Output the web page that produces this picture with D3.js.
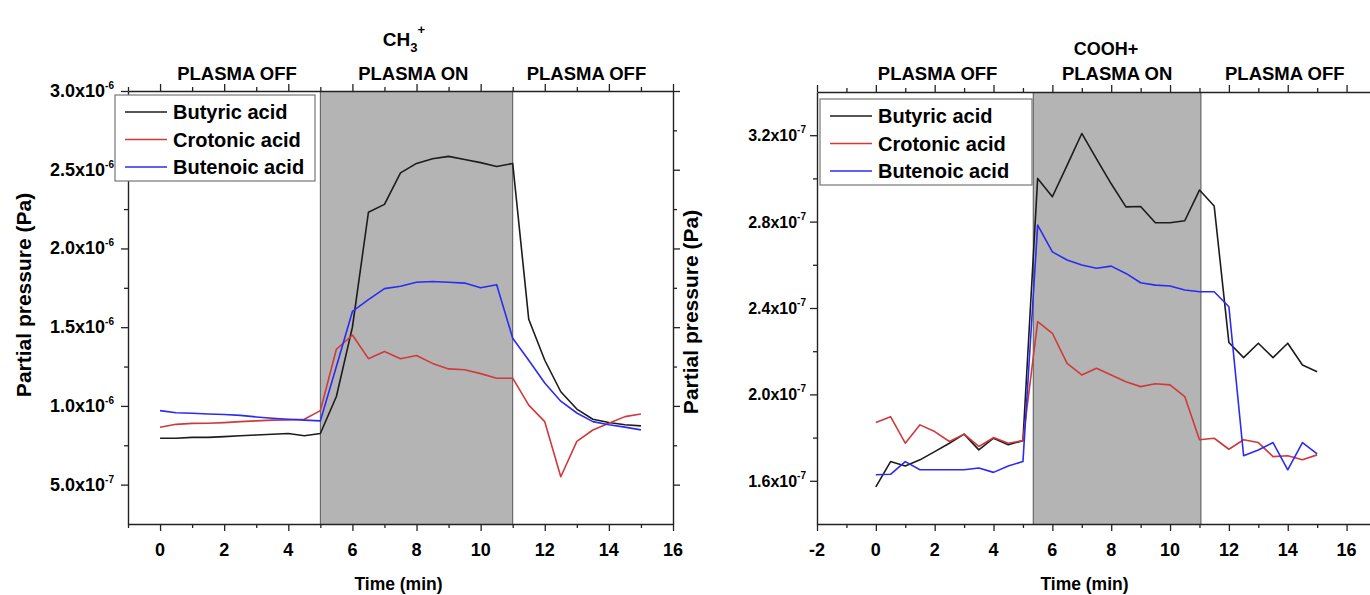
<!DOCTYPE html>
<html>
<head>
<meta charset="utf-8">
<script src="https://cdn.jsdelivr.net/npm/d3@7"></script>
<style>
  body { margin: 0; background: #fff; }
  svg { font-family: "Liberation Sans", Arial, sans-serif; font-weight: bold; }
</style>
</head>
<body>
<svg id="chart"></svg>
<script>
// sampling times (min), one reading every 30 s
const times = [0, 0.5, 1, 1.5, 2, 2.5, 3, 3.5, 4, 4.5, 5, 5.5, 6, 6.5, 7, 7.5,
               8, 8.5, 9, 9.5, 10, 10.5, 11, 11.5, 12, 12.5, 13, 13.5, 14, 14.5, 15]

// CH3+ signal, partial pressure (Pa)
const ch3Butyric = [0.795e-6, 0.795e-6, 0.80e-6, 0.80e-6, 0.805e-6, 0.81e-6, 0.815e-6, 0.82e-6,
                    0.825e-6, 0.81e-6, 0.825e-6, 1.06e-6, 1.50e-6, 2.23e-6, 2.28e-6, 2.48e-6,
                    2.54e-6, 2.57e-6, 2.585e-6, 2.565e-6, 2.545e-6, 2.52e-6, 2.54e-6, 1.55e-6,
                    1.29e-6, 1.09e-6, 0.98e-6, 0.915e-6, 0.895e-6, 0.88e-6, 0.873e-6]
const ch3Crotonic = [0.864e-6, 0.883e-6, 0.889e-6, 0.89e-6, 0.894e-6, 0.90e-6, 0.905e-6, 0.91e-6,
                     0.911e-6, 0.915e-6, 0.97e-6, 1.36e-6, 1.45e-6, 1.30e-6, 1.345e-6, 1.30e-6,
                     1.32e-6, 1.27e-6, 1.235e-6, 1.23e-6, 1.205e-6, 1.176e-6, 1.176e-6, 1.005e-6,
                     0.90e-6, 0.55e-6, 0.775e-6, 0.847e-6, 0.89e-6, 0.932e-6, 0.949e-6]
const ch3Butenoic = [0.97e-6, 0.957e-6, 0.953e-6, 0.949e-6, 0.945e-6, 0.94e-6, 0.93e-6, 0.922e-6,
                     0.915e-6, 0.91e-6, 0.905e-6, 1.25e-6, 1.60e-6, 1.675e-6, 1.745e-6, 1.76e-6,
                     1.785e-6, 1.79e-6, 1.785e-6, 1.78e-6, 1.75e-6, 1.77e-6, 1.43e-6, 1.29e-6,
                     1.145e-6, 1.03e-6, 0.955e-6, 0.90e-6, 0.88e-6, 0.865e-6, 0.848e-6]

// COOH+ signal, partial pressure (Pa)
const coohButyric = [1.572e-7, 1.689e-7, 1.669e-7, 1.697e-7, 1.735e-7, 1.774e-7, 1.816e-7, 1.743e-7,
                     1.797e-7, 1.767e-7, 1.786e-7, 3.00e-7, 2.915e-7, 3.06e-7, 3.208e-7, 3.09e-7,
                     2.975e-7, 2.868e-7, 2.87e-7, 2.795e-7, 2.795e-7, 2.804e-7, 2.946e-7, 2.872e-7,
                     2.24e-7, 2.17e-7, 2.237e-7, 2.17e-7, 2.237e-7, 2.136e-7, 2.105e-7]
const coohCrotonic = [1.87e-7, 1.897e-7, 1.774e-7, 1.859e-7, 1.828e-7, 1.782e-7, 1.816e-7, 1.759e-7,
                      1.80e-7, 1.774e-7, 1.786e-7, 2.337e-7, 2.283e-7, 2.144e-7, 2.09e-7, 2.121e-7,
                      2.09e-7, 2.059e-7, 2.036e-7, 2.049e-7, 2.044e-7, 1.99e-7, 1.79e-7, 1.797e-7,
                      1.746e-7, 1.79e-7, 1.777e-7, 1.712e-7, 1.716e-7, 1.697e-7, 1.72e-7]
const coohButenoic = [1.628e-7, 1.63e-7, 1.689e-7, 1.651e-7, 1.651e-7, 1.651e-7, 1.651e-7, 1.659e-7,
                      1.639e-7, 1.669e-7, 1.689e-7, 2.784e-7, 2.66e-7, 2.622e-7, 2.599e-7, 2.584e-7,
                      2.594e-7, 2.56e-7, 2.517e-7, 2.506e-7, 2.502e-7, 2.483e-7, 2.475e-7, 2.475e-7,
                      2.406e-7, 1.716e-7, 1.743e-7, 1.777e-7, 1.651e-7, 1.777e-7, 1.725e-7]

const seriesNames = ['Butyric acid', 'Crotonic acid', 'Butenoic acid']
const seriesColors = ['#1c1c1c', '#cf3a3a', '#2b2bf2']
const phaseLabels = ['PLASMA OFF', 'PLASMA ON', 'PLASMA OFF']

// plasma on window (min)
const ch3PlasmaOn = [5, 11]
const coohPlasmaOn = [5.35, 11.05]

// tick values
const ch3XTicks = [0, 2, 4, 6, 8, 10, 12, 14, 16]
const coohXTicks = [-2, 0, 2, 4, 6, 8, 10, 12, 14, 16]
const ch3YTicks = [5e-7, 1.0e-6, 1.5e-6, 2.0e-6, 2.5e-6, 3.0e-6]
const coohYTicks = [1.6e-7, 2.0e-7, 2.4e-7, 2.8e-7, 3.2e-7]

const svg = d3.select('#chart')
              .attr('width', 1370)
              .attr('height', 595)

//splits a tick value into "m.mx10" and its exponent
const sciParts = (v) => {
    let exp = Math.floor(Math.log10(v) + 1e-9)
    let mant = (v / Math.pow(10, exp)).toFixed(1)
    return [mant + 'x10', String(exp)]
}

//draws one panel
const drawPanel = (p) => {

    const x = d3.scaleLinear().domain(p.xDomain).range([p.left, p.right])
    const y = d3.scaleLinear().domain(p.yDomain).range([p.bottom, p.top])

    const g = svg.append('g')

    //plasma on band
    g.append('rect')
     .attr('x', x(p.plasma[0]))
     .attr('y', p.top)
     .attr('width', x(p.plasma[1]) - x(p.plasma[0]))
     .attr('height', p.bottom - p.top)
     .attr('fill', '#b4b4b4')
    p.plasma.forEach(t => {
        g.append('line')
         .attr('x1', x(t)).attr('x2', x(t))
         .attr('y1', p.top).attr('y2', p.bottom)
         .attr('stroke', '#555').attr('stroke-width', 1)
    })

    //axes: major + minor ticks
    const xMinor = d3.range(p.xDomain[0], p.xDomain[1] + 0.01, 1).filter(v => !p.xTicks.includes(v))
    const yMinor = p.yTicks.map(v => v - p.yStep / 2).concat([p.yTicks[p.yTicks.length - 1] + p.yStep / 2])
                           .filter(v => v > p.yDomain[0] && v < p.yDomain[1])

    const styleAxis = (sel) => {
        sel.select('.domain').attr('stroke', '#222').attr('stroke-width', 1.4)
        sel.selectAll('.tick line').attr('stroke', '#222').attr('stroke-width', 1.3)
        sel.selectAll('.tick text').remove()
    }

    const axes = [
        [d3.axisBottom(x), `translate(0,${p.bottom})`, p.xTicks, xMinor, 1],
        [d3.axisBottom(x), `translate(0,${p.top})`, p.xTicks, xMinor, -1],
        [d3.axisLeft(y), `translate(${p.left},0)`, p.yTicks, yMinor, 1],
        [d3.axisLeft(y), `translate(${p.right},0)`, p.yTicks, yMinor, -1]
    ]
    axes.forEach(([ax, tr, major, minor, dir]) => {
        g.append('g').attr('transform', tr)
         .call(ax.tickValues(major).tickSize(7 * dir).tickSizeOuter(0))
         .call(styleAxis)
        g.append('g').attr('transform', tr)
         .call(ax.tickValues(minor).tickSize(4 * dir).tickSizeOuter(0))
         .call(styleAxis)
         .select('.domain').remove()
    })

    //x tick labels
    g.selectAll('.xlab')
     .data(p.xTicks)
     .join('text')
     .attr('x', d => x(d))
     .attr('y', p.bottom + 32)
     .attr('text-anchor', 'middle')
     .attr('font-size', 18)
     .text(d => d)

    //y tick labels with exponent
    const yl = g.selectAll('.ylab')
                .data(p.yTicks)
                .join('text')
                .attr('x', p.left - p.yLabGap)
                .attr('y', d => y(d) + 6)
                .attr('text-anchor', 'end')
                .attr('font-size', p.yLabSize)
    yl.append('tspan').text(d => sciParts(d)[0])
    yl.append('tspan').attr('font-size', 10).attr('dy', -8).text(d => sciParts(d)[1])

    //axis titles
    g.append('text')
     .attr('x', (p.left + p.right) / 2 + p.xTitleShift)
     .attr('y', 590)
     .attr('text-anchor', 'middle')
     .attr('font-size', 17.5)
     .text('Time (min)')

    g.append('text')
     .attr('transform', `translate(${p.yTitleX},${p.yTitleY}) rotate(-90)`)
     .attr('text-anchor', 'middle')
     .attr('font-size', 21)
     .text('Partial pressure (Pa)')

    //phase labels
    g.selectAll('.phase')
     .data(phaseLabels)
     .join('text')
     .attr('x', (d, i) => x(p.phaseAt[i]))
     .attr('y', 80)
     .attr('text-anchor', 'middle')
     .attr('font-size', 18.5)
     .text(d => d)

    //series
    const line = d3.line()
                   .x((d, i) => x(times[i]))
                   .y(d => y(d))
    p.series.forEach((s, k) => {
        g.append('path')
         .datum(s)
         .attr('d', line)
         .attr('fill', 'none')
         .attr('stroke', seriesColors[k])
         .attr('stroke-width', 1.6)
         .attr('stroke-linejoin', 'round')
    })

    //legend
    const lg = g.append('g').attr('transform', `translate(${p.legend[0]},${p.legend[1]})`)
    lg.append('rect')
      .attr('width', p.legend[2]).attr('height', 86)
      .attr('fill', '#fff').attr('stroke', '#777').attr('stroke-width', 1.2)
    seriesNames.forEach((name, k) => {
        let yy = 17 + k * 27.5
        lg.append('line')
          .attr('x1', 10).attr('x2', 52).attr('y1', yy).attr('y2', yy)
          .attr('stroke', seriesColors[k]).attr('stroke-width', 1.6)
        lg.append('text')
          .attr('x', 58).attr('y', yy + 7)
          .attr('font-size', 20)
          .text(name)
    })
}

drawPanel({
    left: 128, right: 673, top: 91, bottom: 524,
    xDomain: [-1, 16], yDomain: [0.25e-6, 3.0e-6],
    xTicks: ch3XTicks, yTicks: ch3YTicks, yStep: 0.5e-6,
    plasma: ch3PlasmaOn, phaseAt: [2.4, 7.9, 13.3],
    series: [ch3Butyric, ch3Crotonic, ch3Butenoic],
    yLabGap: 14, yLabSize: 18, xTitleShift: -2, yTitleX: 31, yTitleY: 295,
    legend: [115, 95, 200]
})

drawPanel({
    left: 817, right: 1376, top: 92, bottom: 524,
    xDomain: [-2, 17], yDomain: [1.4e-7, 3.4e-7],
    xTicks: coohXTicks, yTicks: coohYTicks, yStep: 0.4e-7,
    plasma: coohPlasmaOn, phaseAt: [2.1, 8.2, 13.9],
    series: [coohButyric, coohCrotonic, coohButenoic],
    yLabGap: 11, yLabSize: 16, xTitleShift: -12, yTitleX: 698, yTitleY: 312,
    legend: [820, 99, 212]
})

//panel titles
const t1 = svg.append('text').attr('x', 404).attr('y', 46).attr('text-anchor', 'middle').attr('font-size', 19)
t1.append('tspan').text('CH')
t1.append('tspan').attr('font-size', 13).attr('dy', 6).text('3')
t1.append('tspan').attr('font-size', 13).attr('dy', -18).text('+')

svg.append('text').attr('x', 1106).attr('y', 55).attr('text-anchor', 'middle').attr('font-size', 18).text('COOH+')
</script>
</body>
</html>
